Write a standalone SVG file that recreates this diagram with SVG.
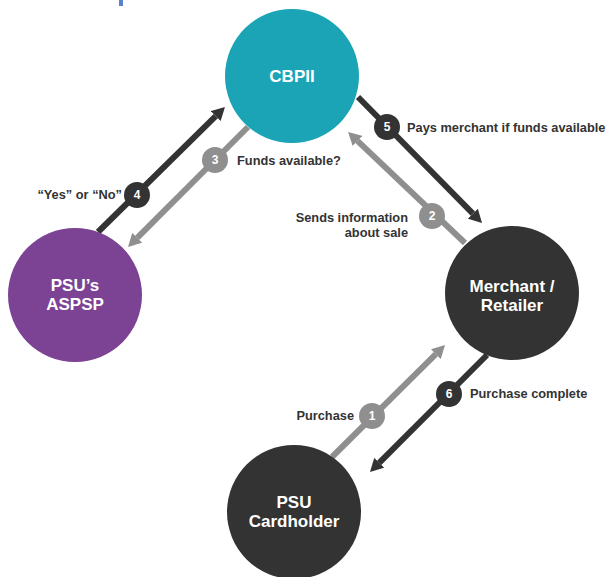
<svg xmlns="http://www.w3.org/2000/svg" width="613" height="577" viewBox="0 0 613 577">
<style>
.node-label{font-family:"Liberation Sans",Arial,sans-serif;font-weight:bold;font-size:17px;fill:#ffffff;text-anchor:middle}
.edge-label{font-family:"Liberation Sans",Arial,sans-serif;font-weight:bold;font-size:12.8px;fill:#333333}
.num{font-family:"Liberation Sans",Arial,sans-serif;font-weight:bold;font-size:12px;fill:#ffffff;text-anchor:middle}
.dark{stroke:#333333;stroke-width:6;fill:none}
.gray{stroke:#8f8f8f;stroke-width:6;fill:none}
.dark-badge{fill:#333333}
.gray-badge{fill:#8f8f8f}
</style>
<defs>
<marker id="arrow-dark" markerUnits="userSpaceOnUse" viewBox="0 -7 13 14" markerWidth="13" markerHeight="14" refX="0" refY="0" orient="auto">
<path d="M0,-7 L13,0 L0,7 z" fill="#333333"/>
</marker>
<marker id="arrow-gray" markerUnits="userSpaceOnUse" viewBox="0 -7 13 14" markerWidth="13" markerHeight="14" refX="0" refY="0" orient="auto">
<path d="M0,-7 L13,0 L0,7 z" fill="#8f8f8f"/>
</marker>
</defs>
<rect x="119" y="0" width="4" height="6" fill="#5b80cf"/>
<g id="connectors">
<g id="edge-1">
<line class="gray" x1="332" y1="457" x2="435.8" y2="354.2" marker-end="url(#arrow-gray)"/>
<circle class="gray-badge" cx="372" cy="416" r="13"/>
<text class="num" x="372" y="420">1</text>
<text class="edge-label" x="354" y="420" text-anchor="end">Purchase</text>
</g>
<g id="edge-2">
<line class="gray" x1="465" y1="243" x2="357.5" y2="140.9" marker-end="url(#arrow-gray)"/>
<circle class="gray-badge" cx="432" cy="216" r="13"/>
<text class="num" x="432" y="220">2</text>
<text class="edge-label" x="408" y="222" text-anchor="end">Sends information</text>
<text class="edge-label" x="408" y="237" text-anchor="end">about sale</text>
</g>
<g id="edge-3">
<line class="gray" x1="248" y1="127" x2="137.2" y2="237.8" marker-end="url(#arrow-gray)"/>
<circle class="gray-badge" cx="215" cy="160" r="13"/>
<text class="num" x="215" y="164">3</text>
<text class="edge-label" x="237" y="165">Funds available?</text>
</g>
<g id="edge-4">
<line class="dark" x1="98" y1="232" x2="215.7" y2="116.1" marker-end="url(#arrow-dark)"/>
<circle class="dark-badge" cx="137" cy="195" r="13"/>
<text class="num" x="137" y="199">4</text>
<text class="edge-label" x="122" y="199" text-anchor="end">“Yes” or “No”</text>
</g>
<g id="edge-5">
<line class="dark" x1="358" y1="97" x2="472.9" y2="213.7" marker-end="url(#arrow-dark)"/>
<circle class="dark-badge" cx="387" cy="127" r="13"/>
<text class="num" x="387" y="131">5</text>
<text class="edge-label" x="407" y="132">Pays merchant if funds available</text>
</g>
<g id="edge-6">
<line class="dark" x1="487" y1="355" x2="379.2" y2="462.8" marker-end="url(#arrow-dark)"/>
<circle class="dark-badge" cx="449" cy="394" r="13"/>
<text class="num" x="449" y="398">6</text>
<text class="edge-label" x="470" y="398">Purchase complete</text>
</g>
</g>
<g id="node-cbpii">
<circle cx="292" cy="76" r="67" fill="#1ba3b6"/>
<text class="node-label" x="292" y="82">CBPII</text>
</g>
<g id="node-aspsp">
<circle cx="75" cy="295" r="67" fill="#7c4294"/>
<text class="node-label" x="75" y="291">PSU’s</text>
<text class="node-label" x="75" y="310">ASPSP</text>
</g>
<g id="node-merchant">
<circle cx="512" cy="293" r="67" fill="#333333"/>
<text class="node-label" x="512" y="292">Merchant /</text>
<text class="node-label" x="512" y="311">Retailer</text>
</g>
<g id="node-cardholder">
<circle cx="294" cy="512" r="67" fill="#333333"/>
<text class="node-label" x="294" y="508">PSU</text>
<text class="node-label" x="294" y="527">Cardholder</text>
</g>
</svg>
